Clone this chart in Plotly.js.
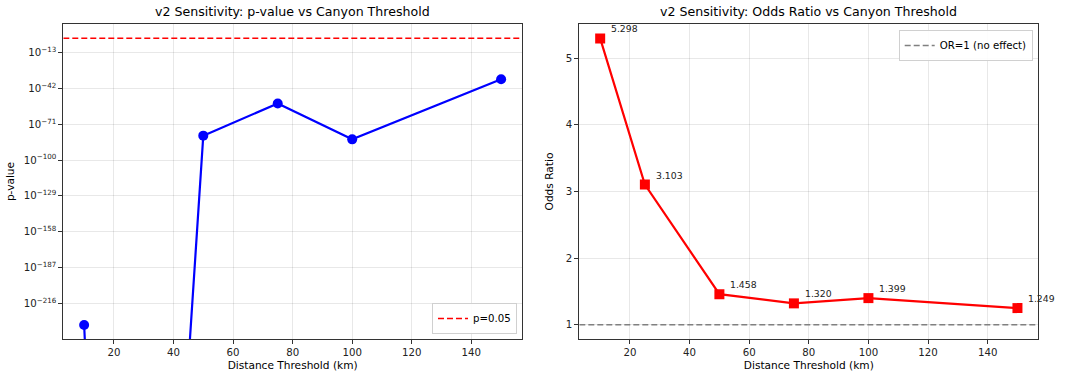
<!DOCTYPE html>
<html>
<head>
<meta charset="utf-8">
<script src="https://cdn.plot.ly/plotly-3.0.1.min.js"></script>
<style>html,body{margin:0;padding:0;background:#fff;}#chart{width:1080px;height:381px;}</style>
</head>
<body>
<div id="chart"></div>
<script>
// Distance thresholds (km)
const thresholds = [10, 25, 50, 75, 100, 150];
// log10(p-value); the 25 km p-value underflowed to 0, clipped to 1e-1000 as on a log axis
const pValueLog10 = [-233.6, -1000, -80.2, -54.2, -83.2, -34.5];
// Odds ratios
const oddsRatios = [5.298, 3.103, 1.458, 1.320, 1.399, 1.249];
// Reference levels
const pThreshold = 0.05;
const orNoEffect = 1;
// Left y tick exponents
const pTickExps = [-13, -42, -71, -100, -129, -158, -187, -216];
const xTicks = [20, 40, 60, 80, 100, 120, 140];

const FONT = 'DejaVu Sans, Liberation Sans, sans-serif';
const xRange = [3, 157];

const pTickText = pTickExps.map(e => '10<sup>\u2212' + Math.abs(e) + '</sup>');

const axisCommon = {
  showline: true, mirror: true, linecolor: '#333', linewidth: 1,
  showgrid: true, gridcolor: 'rgba(0,0,0,0.09)', gridwidth: 1,
  ticks: 'outside', ticklen: 4, tickcolor: '#333', tickwidth: 1,
  zeroline: false,
  tickfont: {family: FONT, size: 10.2, color: '#222'}
};

const traces = [
  {
    x: thresholds, y: pValueLog10, xaxis: 'x', yaxis: 'y',
    mode: 'lines+markers', type: 'scatter', showlegend: false,
    line: {color: '#0000ff', width: 2.2},
    marker: {color: '#0000ff', size: 10, symbol: 'circle'},
    cliponaxis: true
  },
  {
    x: xRange, y: [Math.log10(pThreshold), Math.log10(pThreshold)], xaxis: 'x', yaxis: 'y',
    mode: 'lines', type: 'scatter', name: 'p=0.05', legend: 'legend',
    line: {color: '#ff0000', width: 1.6, dash: '6px,3px'}
  },
  {
    x: thresholds, y: oddsRatios, xaxis: 'x2', yaxis: 'y2',
    mode: 'lines+markers', type: 'scatter', showlegend: false,
    line: {color: '#ff0000', width: 2.2},
    marker: {color: '#ff0000', size: 10, symbol: 'square'}
  },
  {
    x: xRange, y: [orNoEffect, orNoEffect], xaxis: 'x2', yaxis: 'y2',
    mode: 'lines', type: 'scatter', name: 'OR=1 (no effect)', legend: 'legend2',
    line: {color: '#808080', width: 1.6, dash: '6px,3px'}
  }
];

const annotations = oddsRatios.map((v, i) => ({
  x: thresholds[i], y: v, xref: 'x2', yref: 'y2',
  text: v.toFixed(3), showarrow: false,
  xanchor: 'left', yanchor: 'bottom', xshift: 9, yshift: 2,
  font: {family: FONT, size: 9.3, color: '#222'}
}));

const titleFont = {family: FONT, size: 12.6, color: '#000'};
annotations.push(
  {text: 'v2 Sensitivity: p-value vs Canyon Threshold', xref: 'paper', yref: 'paper',
   x: (0.0586 + 0.4833) / 2, y: 0.945, xanchor: 'center', yanchor: 'bottom', showarrow: false, font: titleFont},
  {text: 'v2 Sensitivity: Odds Ratio vs Canyon Threshold', xref: 'paper', yref: 'paper',
   x: (0.5364 + 0.9614) / 2, y: 0.945, xanchor: 'center', yanchor: 'bottom', showarrow: false, font: titleFont}
);

const axisTitleFont = {family: FONT, size: 10.6, color: '#000'};

const layout = {
  width: 1080, height: 381,
  margin: {l: 0, r: 0, t: 0, b: 0},
  paper_bgcolor: '#fff', plot_bgcolor: '#fff',
  font: {family: FONT},
  xaxis: Object.assign({}, axisCommon, {
    domain: [0.0586, 0.4833], range: xRange, tickvals: xTicks, anchor: 'y',
    title: {text: 'Distance Threshold (km)', font: axisTitleFont, standoff: 4}
  }),
  yaxis: Object.assign({}, axisCommon, {
    domain: [0.1102, 0.937], range: [-244.9, 10.2], anchor: 'x',
    tickvals: pTickExps, ticktext: pTickText,
    title: {text: 'p-value', font: axisTitleFont, standoff: 6}
  }),
  xaxis2: Object.assign({}, axisCommon, {
    domain: [0.5364, 0.9614], range: xRange, tickvals: xTicks, anchor: 'y2',
    title: {text: 'Distance Threshold (km)', font: axisTitleFont, standoff: 4}
  }),
  yaxis2: Object.assign({}, axisCommon, {
    domain: [0.1102, 0.937], range: [0.785, 5.514], anchor: 'x2',
    tickvals: [1, 2, 3, 4, 5],
    title: {text: 'Odds Ratio', font: axisTitleFont, standoff: 10}
  }),
  legend: {
    x: 0.4787, y: 0.1234, xanchor: 'right', yanchor: 'bottom',
    bgcolor: 'rgba(255,255,255,0.9)', bordercolor: '#d0d0d0', borderwidth: 1,
    font: {family: FONT, size: 10.2, color: '#000'}, itemwidth: 30
  },
  legend2: {
    x: 0.9562, y: 0.9213, xanchor: 'right', yanchor: 'top',
    bgcolor: 'rgba(255,255,255,0.9)', bordercolor: '#d0d0d0', borderwidth: 1,
    font: {family: FONT, size: 10.2, color: '#000'}, itemwidth: 30
  },
  annotations: annotations
};

Plotly.newPlot('chart', traces, layout, {displayModeBar: false, staticPlot: true});
</script>
</body>
</html>
